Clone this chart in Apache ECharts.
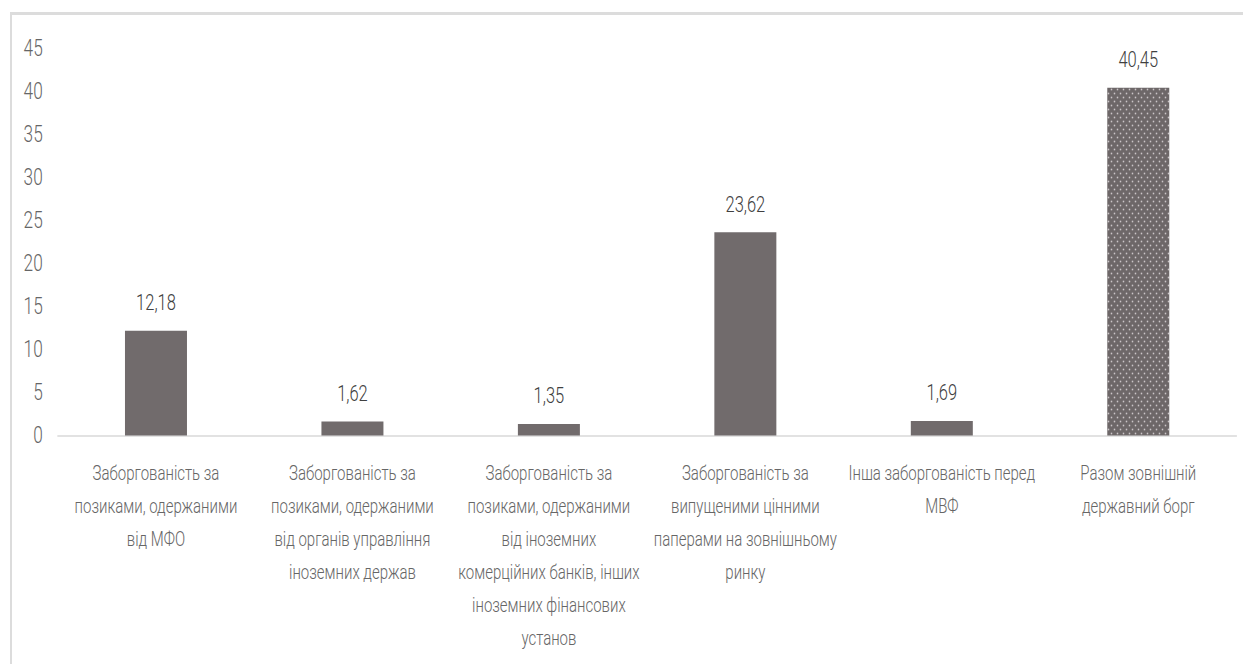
<!DOCTYPE html>
<html>
<head>
<meta charset="utf-8">
<script src="https://cdn.jsdelivr.net/npm/echarts@6/dist/echarts.min.js"></script>
<style>
  html, body { margin: 0; padding: 0; background: #ffffff; overflow: hidden; }
  #frame {
    position: absolute; left: 10px; top: 12px; width: 1400px; height: 800px;
    border-left: 2px solid #dcdcdc; border-top: 3px solid #dcdcdc;
  }
  /* the chart is laid out wider and condensed horizontally, giving narrow type */
  #chart {
    position: absolute; left: 0; top: 0;
    width: 1657.33px; height: 664px;
    transform: scaleX(0.75); transform-origin: 0 0;
  }
</style>
</head>
<body>
<div id="frame"></div>
<div id="chart"></div>
<script>
// Структура зовнішнього державного боргу, млрд дол. США
const categories = [
  'Заборгованість за\nпозиками, одержаними\nвід МФО',
  'Заборгованість за\nпозиками, одержаними\nвід органів управління\nіноземних держав',
  'Заборгованість за\nпозиками, одержаними\nвід іноземних\nкомерційних банків, інших\nіноземних фінансових\nустанов',
  'Заборгованість за\nвипущеними цінними\nпаперами на зовнішньому\nринку',
  'Інша заборгованість перед\nМВФ',
  'Разом зовнішній\nдержавний борг'
];
const values = [12.18, 1.62, 1.35, 23.62, 1.69, 40.45];
const yTicks = [0, 5, 10, 15, 20, 25, 30, 35, 40, 45];

const FONT = 'Roboto, "Liberation Sans", Arial, sans-serif';
const BAR = '#716b6c';
const SX = 0.75; // horizontal condensing applied to the chart box

// dotted fill for the total bar (tile drawn wide, condensed with the chart)
function dotPattern() {
  const c = document.createElement('canvas');
  c.width = 8; c.height = 8;
  const g = c.getContext('2d');
  g.fillStyle = '#6d6768';
  g.fillRect(0, 0, 8, 8);
  g.fillStyle = 'rgba(235,230,232,0.75)';
  g.beginPath(); g.ellipse(2, 1.5, 1.2, 0.9, 0, 0, Math.PI * 2); g.fill();
  g.beginPath(); g.ellipse(6, 5.5, 1.2, 0.9, 0, 0, Math.PI * 2); g.fill();
  return c;
}

const chart = echarts.init(document.getElementById('chart'), null, { renderer: 'svg' });
const fmt = v => v.toFixed(2).replace('.', ',');

chart.setOption({
  animation: false,
  backgroundColor: 'transparent',
  grid: { left: 57.75 / SX, right: 6.25 / SX, top: 48.5, bottom: 228.5, containLabel: false },
  xAxis: {
    type: 'category',
    data: categories,
    axisLine: { show: true, lineStyle: { color: '#d9d9d9', width: 1.5 } },
    axisTick: { show: false },
    axisLabel: {
      interval: 0,
      margin: 21,
      color: '#666666',
      fontFamily: FONT,
      fontWeight: 300,
      fontSize: 20,
      lineHeight: 33
    }
  },
  yAxis: {
    type: 'value',
    min: yTicks[0],
    max: yTicks[yTicks.length - 1],
    interval: 5,
    splitLine: { show: false },
    axisLine: { show: false },
    axisTick: { show: false },
    axisLabel: { color: '#666666', fontFamily: FONT, fontWeight: 300, fontSize: 23, margin: 15 / SX }
  },
  series: [{
    type: 'bar',
    barWidth: 62 / SX,
    data: values.map((v, i) => i === values.length - 1
      ? { value: v, itemStyle: { color: { image: dotPattern(), repeat: 'repeat' } } }
      : { value: v }),
    itemStyle: { color: BAR },
    label: {
      show: true,
      position: 'top',
      distance: 17,
      color: '#404040',
      fontFamily: FONT,
      fontWeight: 300,
      fontSize: 22,
      formatter: p => fmt(p.value)
    }
  }]
});
</script>
</body>
</html>
